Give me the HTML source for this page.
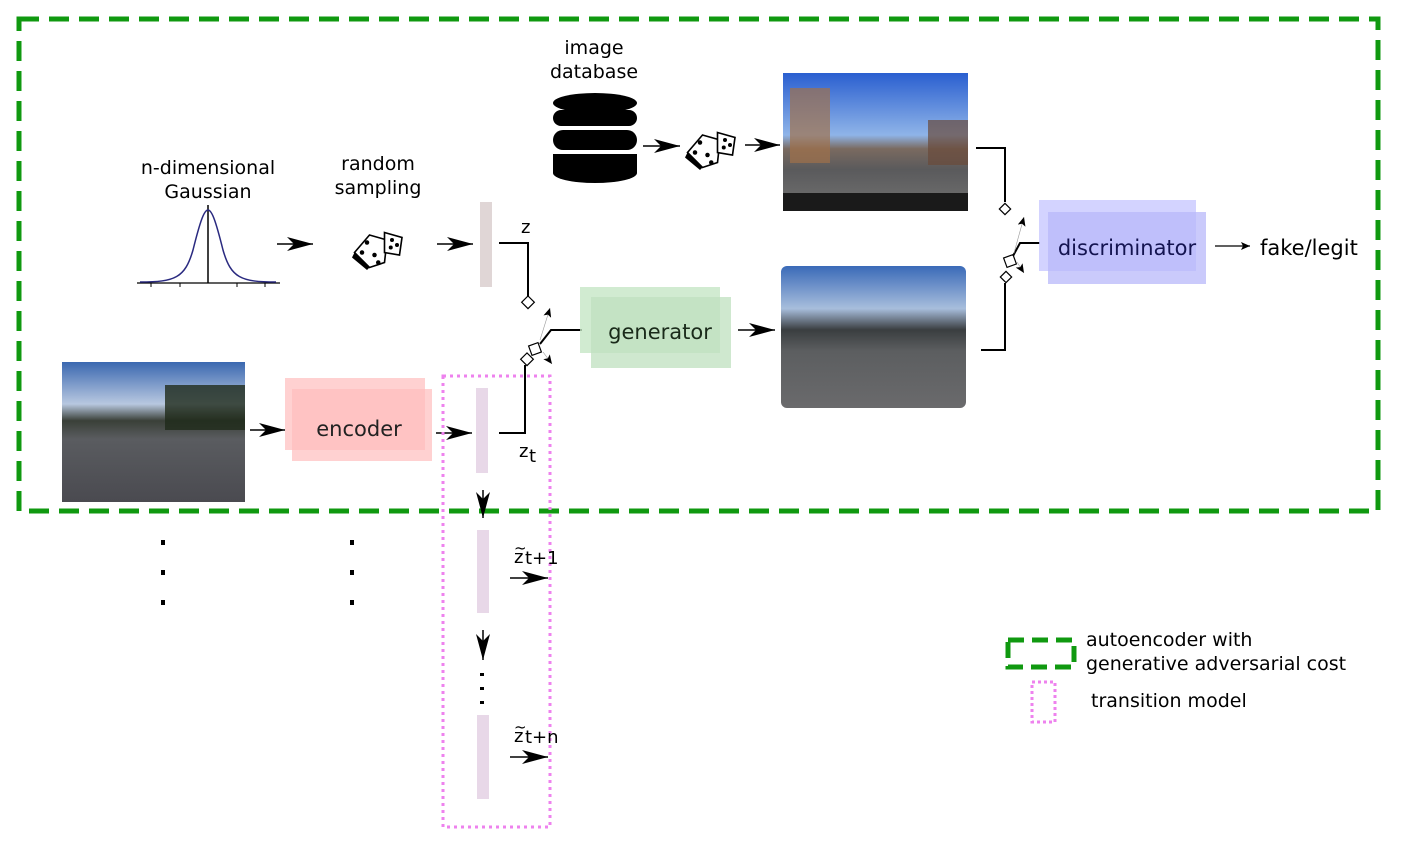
<!DOCTYPE html>
<html><head><meta charset="utf-8"><style>
html,body{margin:0;padding:0;background:#fff}
svg{display:block;font-family:"DejaVu Sans","Liberation Sans",sans-serif}
</style></head><body>
<svg width="1404" height="862" viewBox="0 0 1404 862" xmlns="http://www.w3.org/2000/svg">
<defs>
<marker id="ar" markerWidth="28" markerHeight="14" refX="26" refY="7" orient="auto" markerUnits="userSpaceOnUse">
<path d="M0,0 L26,7 L0,14 L7,7 z" fill="#000"/></marker>
<marker id="sm" markerWidth="10" markerHeight="8" refX="9" refY="4" orient="auto" markerUnits="userSpaceOnUse">
<path d="M0,0 L9,4 L0,8 L2,4 z" fill="#000"/></marker>
<linearGradient id="p1" x1="0" y1="0" x2="0" y2="1">
<stop offset="0" stop-color="#2a5fd0"/><stop offset="0.45" stop-color="#8fb4e8"/><stop offset="0.55" stop-color="#7a6a60"/><stop offset="0.7" stop-color="#5a5a5c"/><stop offset="0.9" stop-color="#6a6a6a"/><stop offset="1" stop-color="#2a2a2a"/></linearGradient>
<linearGradient id="p2" x1="0" y1="0" x2="0" y2="1">
<stop offset="0" stop-color="#3a6ab8"/><stop offset="0.3" stop-color="#a8bedc"/><stop offset="0.45" stop-color="#3a3e40"/><stop offset="0.6" stop-color="#5c5e60"/><stop offset="1" stop-color="#6a6a6c"/></linearGradient>
<linearGradient id="p3" x1="0" y1="0" x2="0" y2="1">
<stop offset="0" stop-color="#3b68b0"/><stop offset="0.3" stop-color="#b8c8e0"/><stop offset="0.42" stop-color="#3a4038"/><stop offset="0.55" stop-color="#5a5c60"/><stop offset="1" stop-color="#4a4a50"/></linearGradient>
<g id="dice"><path d="M-18,6 L-6,-8 L8,-4 L6,14 L-6,18 z" fill="#fff" stroke="#000" stroke-width="1.3"/><path d="M-18,6 L-6,18 L-8,20 L-20,10 z" fill="#000"/><path d="M6,-10 L20,-6 L18,8 L6,6 z" fill="#fff" stroke="#000" stroke-width="1.3"/><circle cx="-8" cy="-2" r="1.8"/><circle cx="-12" cy="6" r="1.8"/><circle cx="-2" cy="8" r="1.8"/><circle cx="1" cy="14" r="1.8"/><circle cx="12" cy="-4" r="1.6"/><circle cx="16" cy="0" r="1.6"/><circle cx="11" cy="2" r="1.6"/></g>
</defs>

<rect x="19" y="19" width="1359" height="492" fill="none" stroke="#109910" stroke-width="5" stroke-dasharray="20,10"/>

<text x="208" y="174" font-size="19" text-anchor="middle">n-dimensional</text>
<text x="208" y="198" font-size="19" text-anchor="middle">Gaussian</text>
<line x1="137" y1="283" x2="280" y2="283" stroke="#000" stroke-width="1.3"/>
<g stroke="#000" stroke-width="1"><line x1="151" y1="283" x2="151" y2="287"/><line x1="180" y1="283" x2="180" y2="287"/><line x1="237" y1="283" x2="237" y2="287"/><line x1="265" y1="283" x2="265" y2="287"/></g>
<line x1="208" y1="205" x2="208" y2="283" stroke="#000" stroke-width="1.5"/>
<path d="M140,282 C175,282 185,278 193,250 C200,222 204,210 208,210 C212,210 216,222 223,250 C231,278 241,282 276,282" fill="none" stroke="#2a2a80" stroke-width="1.5"/>
<line x1="277" y1="244" x2="313" y2="244" stroke="#000" stroke-width="1.5" marker-end="url(#ar)"/>

<text x="378" y="170" font-size="19" text-anchor="middle">random</text>
<text x="378" y="194" font-size="19" text-anchor="middle">sampling</text>
<use href="#dice" transform="translate(377 245) scale(1.25)"/>
<line x1="437" y1="244" x2="473" y2="244" stroke="#000" stroke-width="1.5" marker-end="url(#ar)"/>
<rect x="480" y="202" width="12" height="85" fill="#e0d6d6"/>
<text x="521" y="233" font-size="18">z</text>
<path d="M499,243 H528 V297" fill="none" stroke="#000" stroke-width="2"/>
<rect x="523" y="298" width="9" height="9" transform="rotate(45 528 303)" fill="#fff" stroke="#000" stroke-width="1.2"/>

<text x="594" y="54" font-size="19" text-anchor="middle">image</text>
<text x="594" y="78" font-size="19" text-anchor="middle">database</text>
<g fill="#000"><ellipse cx="595" cy="103" rx="42" ry="10"/><rect x="553" y="110" width="84" height="16" rx="8"/><rect x="553" y="130" width="84" height="20" rx="10"/><path d="M553,154 H637 V173 A42,10 0 0 1 553,173 z"/></g>
<line x1="643" y1="146" x2="680" y2="146" stroke="#000" stroke-width="1.5" marker-end="url(#ar)"/>
<use href="#dice" transform="translate(710 145) scale(1.25)"/>
<line x1="745" y1="145" x2="780" y2="145" stroke="#000" stroke-width="1.5" marker-end="url(#ar)"/>

<rect x="783" y="73" width="185" height="138" fill="url(#p1)"/>
<rect x="790" y="88" width="40" height="75" fill="#a0704a" opacity="0.7"/>
<rect x="928" y="120" width="40" height="45" fill="#6a4a3a" opacity="0.7"/>
<rect x="783" y="193" width="185" height="18" fill="#1a1a1a"/>

<rect x="781" y="266" width="185" height="142" fill="url(#p2)" rx="6"/>
<rect x="62" y="362" width="183" height="140" fill="url(#p3)"/>
<rect x="165" y="385" width="80" height="45" fill="#1f2a1a" opacity="0.8"/>

<line x1="250" y1="430" x2="285" y2="430" stroke="#000" stroke-width="1.5" marker-end="url(#ar)"/>
<rect x="285" y="378" width="140" height="72" fill="#ffbdbd" opacity="0.7"/>
<rect x="292" y="389" width="140" height="72" fill="#ffbdbd" opacity="0.7"/>
<text x="359" y="436" font-size="21" text-anchor="middle" fill="#222">encoder</text>
<line x1="436" y1="433" x2="472" y2="433" stroke="#000" stroke-width="1.5" marker-end="url(#ar)"/>
<rect x="476" y="388" width="12" height="85" fill="#e8d8e8"/>
<path d="M499,433 H525 V365" fill="none" stroke="#000" stroke-width="2"/>
<text x="519" y="457" font-size="18">z</text><text x="529" y="462" font-size="18">t</text>
<rect x="522" y="355" width="9" height="9" transform="rotate(45 527 360)" fill="#fff" stroke="#000" stroke-width="1.2"/>
<rect x="530" y="344" width="10" height="10" transform="rotate(-20 535 349)" fill="#fff" stroke="#000" stroke-width="1.2"/>
<path d="M540,344 L551,330 H582" fill="none" stroke="#000" stroke-width="2"/>
<line x1="540" y1="340" x2="550" y2="308" stroke="#999" stroke-width="0.6" marker-end="url(#sm)"/>
<line x1="543" y1="352" x2="552" y2="364" stroke="#999" stroke-width="0.6" marker-end="url(#sm)"/>

<rect x="580" y="287" width="140" height="66" fill="#c6e6c6" opacity="0.8"/>
<rect x="591" y="297" width="140" height="71" fill="#bfe0bf" opacity="0.75"/>
<text x="660" y="339" font-size="21" text-anchor="middle" fill="#1a2a1a">generator</text>
<line x1="738" y1="330" x2="775" y2="330" stroke="#000" stroke-width="1.5" marker-end="url(#ar)"/>

<path d="M976,148 H1005 V202" fill="none" stroke="#000" stroke-width="2"/>
<rect x="1001" y="205" width="8" height="8" transform="rotate(45 1005 209)" fill="#fff" stroke="#000" stroke-width="1.2"/>
<path d="M981,350 H1005 V283" fill="none" stroke="#000" stroke-width="2"/>
<rect x="1002" y="273" width="8" height="8" transform="rotate(45 1006 277)" fill="#fff" stroke="#000" stroke-width="1.2"/>
<rect x="1005" y="256" width="10" height="10" transform="rotate(-20 1010 261)" fill="#fff" stroke="#000" stroke-width="1.2"/>
<path d="M1013,256 L1020,243 H1040" fill="none" stroke="#000" stroke-width="2"/>
<line x1="1014" y1="253" x2="1024" y2="217" stroke="#999" stroke-width="0.6" marker-end="url(#sm)"/>
<line x1="1017" y1="262" x2="1024" y2="273" stroke="#999" stroke-width="0.6" marker-end="url(#sm)"/>
<rect x="1039" y="200" width="157" height="71" fill="#c8c8ff" opacity="0.8"/>
<rect x="1048" y="212" width="158" height="72" fill="#b8b8fa" opacity="0.75"/>
<text x="1127" y="255" font-size="21" text-anchor="middle" fill="#141450">discriminator</text>
<line x1="1215" y1="246" x2="1250" y2="246" stroke="#000" stroke-width="1.2" marker-end="url(#sm)"/>
<text x="1260" y="255" font-size="21">fake/legit</text>

<rect x="443" y="376" width="107" height="451" fill="none" stroke="#ee82ee" stroke-width="3" stroke-dasharray="3,4"/>
<line x1="483" y1="490" x2="483" y2="518" stroke="#000" stroke-width="1.5" marker-end="url(#ar)"/>
<rect x="477" y="530" width="12" height="83" fill="#e8d8e8"/>
<text x="514" y="563" font-size="18">z</text><text x="514" y="553" font-size="15">~</text><text x="525" y="564" font-size="18">t+1</text>
<line x1="510" y1="578" x2="548" y2="578" stroke="#000" stroke-width="1.5" marker-end="url(#ar)"/>
<line x1="483" y1="630" x2="483" y2="660" stroke="#000" stroke-width="1.5" marker-end="url(#ar)"/>
<g fill="#000"><rect x="480" y="673" width="4" height="3"/><rect x="480" y="687" width="4" height="3"/><rect x="480" y="701" width="4" height="3"/></g>
<rect x="477" y="715" width="12" height="84" fill="#e8d8e8"/>
<text x="514" y="742" font-size="18">z</text><text x="514" y="732" font-size="15">~</text><text x="525" y="743" font-size="18">t+n</text>
<line x1="510" y1="757" x2="548" y2="757" stroke="#000" stroke-width="1.5" marker-end="url(#ar)"/>

<g fill="#000"><rect x="161" y="540" width="4" height="5"/><rect x="161" y="570" width="4" height="5"/><rect x="161" y="600" width="4" height="5"/>
<rect x="350" y="540" width="4" height="5"/><rect x="350" y="570" width="4" height="5"/><rect x="350" y="600" width="4" height="5"/></g>

<rect x="1008" y="640" width="66" height="27" fill="none" stroke="#109910" stroke-width="5" stroke-dasharray="16,8"/>
<text x="1086" y="646" font-size="19">autoencoder with</text>
<text x="1086" y="670" font-size="19">generative adversarial cost</text>
<rect x="1032" y="682" width="23" height="40" fill="none" stroke="#ee82ee" stroke-width="3" stroke-dasharray="3,3"/>
<text x="1091" y="707" font-size="19">transition model</text>
</svg>
</body></html>
